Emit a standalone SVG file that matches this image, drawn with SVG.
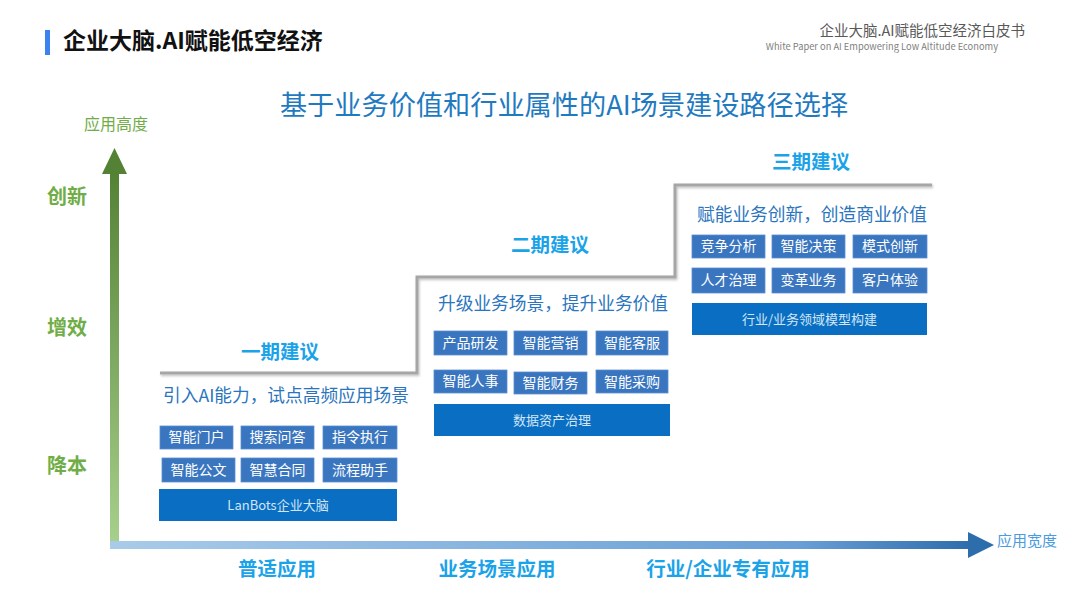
<svg xmlns="http://www.w3.org/2000/svg" width="1080" height="608" viewBox="0 0 1080 608">
<defs>
<linearGradient id="gy" x1="0" y1="1" x2="0" y2="0">
<stop offset="0" stop-color="#a9d18e"/>
<stop offset="1" stop-color="#548235"/>
</linearGradient>
<linearGradient id="gx" x1="0" y1="0" x2="1" y2="0">
<stop offset="0" stop-color="#a9cbe9"/>
<stop offset="0.8" stop-color="#6a9fd6"/>
<stop offset="1" stop-color="#2e6dac"/>
</linearGradient>
<filter id="sh" x="-5%" y="-5%" width="110%" height="110%">
<feDropShadow dx="1" dy="1.5" stdDeviation="1" flood-color="#000" flood-opacity="0.25"/>
</filter>
</defs>
<style>
text{font-family:"Noto Sans CJK SC","Microsoft YaHei",sans-serif;}
.phase{font-size:19.5px;font-weight:bold;fill:#1aa3e8;text-anchor:middle;}
.sub{font-size:17.7px;fill:#2a75bd;}
.box{fill:#3a76c0;stroke:#5a8fd0;stroke-width:0.8;}
.big{fill:#0a6fc2;}
.bt{font-size:14px;fill:#fff;text-anchor:middle;}
.bbt{font-size:13px;fill:#d2e6f7;text-anchor:middle;}
.lvl{font-size:20px;font-weight:bold;fill:#70ad47;}
.xl{font-size:19.5px;font-weight:bold;fill:#1aa3e8;text-anchor:middle;}
</style>
<rect width="1080" height="608" fill="#fff"/>

<g id="header">
<rect x="45" y="30" width="5" height="25" fill="#3b82f0"/>
<text x="63" y="49" font-size="23" font-weight="bold" fill="#111">企业大脑.AI赋能低空经济</text>
<text x="1025" y="36" font-size="14.5" fill="#595959" text-anchor="end">企业大脑.AI赋能低空经济白皮书</text>
<text x="998" y="50" font-size="9.3" fill="#7f7f7f" text-anchor="end">White Paper on AI Empowering Low Altitude Economy</text>
</g>

<g id="title">
<text x="564" y="115" font-size="27.2" fill="#1f7ac0" text-anchor="middle">基于业务价值和行业属性的AI场景建设路径选择</text>
</g>

<g id="axes">
<rect x="110" y="172" width="9" height="377" fill="url(#gy)"/>
<polygon points="114.5,148 102,174 127,174" fill="#548235"/>
<rect x="110" y="541" width="860" height="8" fill="url(#gx)"/>
<polygon points="968,532 994,545 968,558" fill="#2e6dac"/>
<text x="84" y="130" font-size="16" fill="#70ad47">应用高度</text>
<text x="997" y="546" font-size="15" fill="#4a9be0">应用宽度</text>
<text class="lvl" x="47" y="204">创新</text>
<text class="lvl" x="47" y="335">增效</text>
<text class="lvl" x="47" y="473">降本</text>
<text class="xl" x="277" y="576">普适应用</text>
<text class="xl" x="497" y="576">业务场景应用</text>
<text class="xl" x="728" y="576">行业/企业专有应用</text>
</g>

<g id="steps">
<polyline points="160,373 417,373 417,277 675,277 675,185 932,185" fill="none" stroke="#a6a6a6" stroke-width="3" filter="url(#sh)"/>
</g>

<g id="phase1">
<text class="phase" x="280" y="359">一期建议</text>
<text class="sub" x="163" y="402">引入AI能力，试点高频应用场景</text>
<rect class="box" x="160" y="426" width="73" height="23"/>
<rect class="box" x="241" y="426" width="73" height="23"/>
<rect class="box" x="323" y="426" width="74" height="23"/>
<rect class="box" x="162" y="458" width="73" height="24"/>
<rect class="box" x="241" y="458" width="73" height="24"/>
<rect class="box" x="323" y="458" width="74" height="24"/>
<text class="bt" x="196.5" y="442">智能门户</text>
<text class="bt" x="277.5" y="442">搜索问答</text>
<text class="bt" x="360" y="442">指令执行</text>
<text class="bt" x="198.5" y="475">智能公文</text>
<text class="bt" x="277.5" y="475">智慧合同</text>
<text class="bt" x="360" y="475">流程助手</text>
<rect class="big" x="159" y="489" width="238" height="32"/>
<text class="bbt" x="278" y="510">LanBots企业大脑</text>
</g>

<g id="phase2">
<text class="phase" x="550" y="252">二期建议</text>
<text class="sub" x="438" y="310">升级业务场景，提升业务价值</text>
<rect class="box" x="434" y="331" width="73" height="24"/>
<rect class="box" x="514" y="331" width="73" height="24"/>
<rect class="box" x="596" y="331" width="72" height="24"/>
<rect class="box" x="434" y="370" width="73" height="23"/>
<rect class="box" x="514" y="372" width="73" height="22"/>
<rect class="box" x="596" y="370" width="72" height="23"/>
<text class="bt" x="470.5" y="348">产品研发</text>
<text class="bt" x="550.5" y="348">智能营销</text>
<text class="bt" x="632" y="348">智能客服</text>
<text class="bt" x="470.5" y="386">智能人事</text>
<text class="bt" x="550.5" y="388">智能财务</text>
<text class="bt" x="632" y="387">智能采购</text>
<rect class="big" x="434" y="404" width="236" height="32"/>
<text class="bbt" x="552" y="425">数据资产治理</text>
</g>

<g id="phase3">
<text class="phase" x="811" y="169">三期建议</text>
<text class="sub" x="697" y="221">赋能业务创新，创造商业价值</text>
<rect class="box" x="692" y="235" width="73" height="23"/>
<rect class="box" x="772" y="235" width="73" height="23"/>
<rect class="box" x="853" y="235" width="74" height="23"/>
<rect class="box" x="692" y="268" width="73" height="25"/>
<rect class="box" x="772" y="268" width="73" height="25"/>
<rect class="box" x="853" y="268" width="74" height="25"/>
<text class="bt" x="728.5" y="251">竞争分析</text>
<text class="bt" x="808.5" y="251">智能决策</text>
<text class="bt" x="890" y="251">模式创新</text>
<text class="bt" x="728.5" y="285">人才治理</text>
<text class="bt" x="808.5" y="285">变革业务</text>
<text class="bt" x="890" y="285">客户体验</text>
<rect class="big" x="692" y="303" width="235" height="32"/>
<text class="bbt" x="809.5" y="324">行业/业务领域模型构建</text>
</g>
</svg>
